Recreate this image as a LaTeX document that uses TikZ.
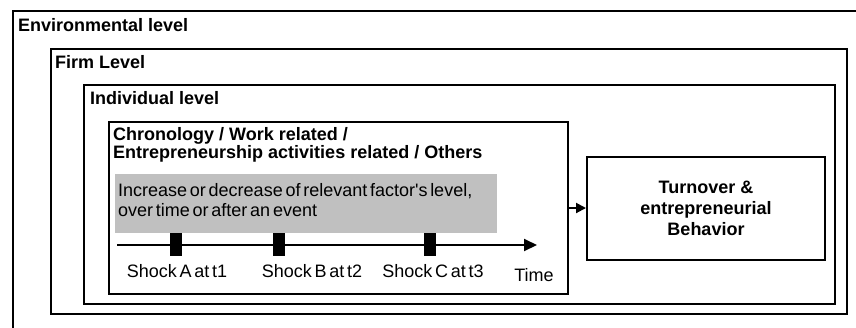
\documentclass[tikz,border=0pt]{standalone}
\usepackage{fontspec}
\setmainfont{Liberation Sans}
\newfontfamily\tightsans{Liberation Sans}[WordSpace=0.55]
\usetikzlibrary{arrows.meta}
\definecolor{grayfill}{RGB}{192,192,192}
\begin{document}
\begin{tikzpicture}[x=1pt,y=-1pt,
  box/.style={draw, line width=2pt, anchor=north west, inner sep=0pt},
  lbl/.style={anchor=base west, inner sep=0pt, font=\fontsize{18}{18}\selectfont\bfseries},
  txt/.style={anchor=base west, inner sep=0pt, font=\fontsize{18}{18}\selectfont\tightsans},
  shocklbl/.style={anchor=base, inner sep=0pt, font=\fontsize{18}{18}\selectfont\tightsans},
  shock/.style={fill=black, minimum width=12pt, minimum height=23pt, inner sep=0pt},
  conn/.style={line width=2pt},
]
\useasboundingbox (0,0) rectangle (856,327);
\clip (0,0) rectangle (856,327);
% nested boxes
\node[box, minimum width=870pt, minimum height=340pt] (env) at (12,10) {};
\node[box, minimum width=796pt, minimum height=265pt] (firm) at (50,48) {};
\node[box, minimum width=751pt, minimum height=219pt] (ind) at (83,84) {};
\node[box, minimum width=459pt, minimum height=172pt] (chron) at (108,121) {};
\node[box, minimum width=238pt, minimum height=103pt] (turn) at (586,155.5) {};
\node[anchor=north west, fill=grayfill, inner sep=0pt, minimum width=382pt, minimum height=59pt] (grayb) at (115,174) {};
% labels
\node[lbl] (envl) at (18,31) {Environmental level};
\node[lbl] (firml) at (55,68) {Firm Level};
\node[lbl] (indl) at (90,104) {Individual level};
\node[lbl] (chl1) at (113,140) {Chronology / Work related /};
\node[lbl] (chl2) at (113,158) {Entrepreneurship activities related / Others};
\node[txt] (g1) at (118,196) {Increase or decrease of relevant factor\textquotesingle s level,};
\node[txt] (g2) at (118,216) {over time or after an event};
\node[align=center, inner sep=0pt, font=\fontsize{18}{21}\selectfont\bfseries] (turnt) at (turn.center) {Turnover \&\\entrepreneurial\\Behavior};
% timeline
\coordinate (tl0) at (117,245);
\coordinate (tl1) at (537,245);
\draw[conn, -{Triangle[length=13pt,width=12pt]}] (tl0) -- (tl1);
\node[shock] (sa) at (176,244) {};
\node[shock] (sb) at (279,244) {};
\node[shock] (sc) at (430,244) {};
\node[shocklbl] (la) at (177,277) {Shock A at t1};
\node[shocklbl] (lb) at (312,277) {Shock B at t2};
\node[shocklbl] (lc) at (433,277) {Shock C at t3};
\node[shocklbl] (lt) at (534,281) {Time};
% arrow to outcome
\draw[conn, -{Triangle[length=10pt,width=10pt]}] (chron.east) -- (turn.west);
\end{tikzpicture}
\end{document}
